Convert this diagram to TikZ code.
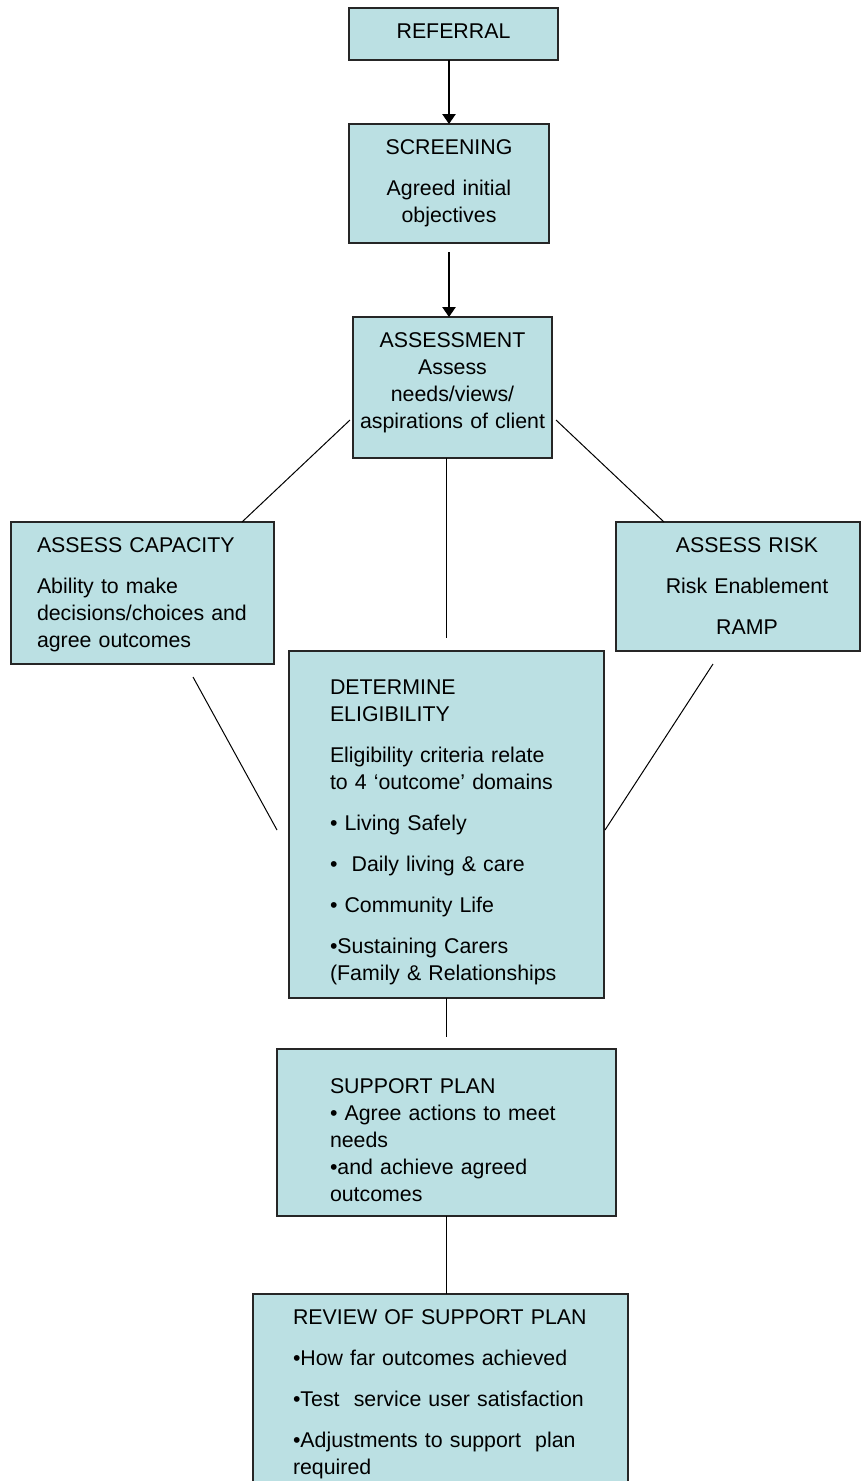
\documentclass[tikz,border=0pt]{standalone}
\usepackage{fontspec}
\setmainfont{Liberation Sans}
\usetikzlibrary{arrows.meta}
\definecolor{stagefill}{HTML}{BBE0E3}
\newcommand{\pushup}[1]{\rule[-#1]{0pt}{#1}}
\newcommand{\nudge}{\hspace*{13.5pt}}

\begin{document}
\begin{tikzpicture}[
  x=0.75pt, y=-0.75pt,
  stage/.style={
    rectangle,
    draw=black!85,
    line width=1pt,
    fill=stagefill,
    anchor=north west,
    inner ysep=0pt,
    outer sep=0pt,
    font=\fontsize{16pt}{20.25pt}\selectfont
  },
  stagec/.style={stage, align=center, inner xsep=3pt},
  stagel/.style={stage, align=left},
  link/.style={draw=black, line width=0.75pt},
  flow/.style={draw=black, line width=1.1pt, -{Triangle[width=10pt,length=7.5pt]}}]
  \useasboundingbox (0,0) rectangle (861,1481);
  % centre column, top
  \node[stagec, text width=150.75pt, minimum height=39pt] (referral) at (349,8) {REFERRAL\pushup{4.5pt}};
  \node[stagec, text width=144pt, minimum height=89.25pt] (screening) at (349,124)
    {SCREENING\\[10.5pt] Agreed initial\\ objectives};
  \node[stagec, text width=143.25pt, minimum height=105.75pt] (assessment) at (353,317)
    {ASSESSMENT\\ Assess\\ needs/views/\\ aspirations of client\pushup{10pt}};
  % side boxes
  \node[stagel, text width=158.25pt, inner xsep=19.5pt, minimum height=106.5pt] (capacity) at (11,522)
    {\rule{0pt}{13.75pt}ASSESS CAPACITY\\[10.5pt] Ability to make\\ decisions/choices and\\ agree outcomes};
  \node[stagec, text width=177pt, minimum height=96.75pt] (risk) at (616,522)
    {\nudge ASSESS RISK\\[10.5pt] \nudge Risk Enablement\\[10.5pt] \nudge RAMP};
  % centre column, bottom
  \node[stagel, text width=174.75pt, inner xsep=30.75pt, minimum height=260.25pt] (determine) at (289,651)
    {\rule{0pt}{23.5pt}DETERMINE\\
     ELIGIBILITY\\[10.5pt]
     Eligibility criteria relate\\
     to 4 ‘outcome’ domains\\[10.5pt]
     • Living Safely\\[10.5pt]
     •~ Daily living \& care\\[10.5pt]
     • Community Life\\[10.5pt]
     •Sustaining Carers\\
     (Family \& Relationships};
  \node[stagel, text width=174.75pt, inner xsep=39.75pt, minimum height=125.25pt] (support) at (277,1049)
    {\rule{0pt}{22pt}SUPPORT PLAN\\
     • Agree actions to meet\\
     needs\\
     •and achieve agreed\\
     outcomes};
  \node[stagel, text width=221.25pt, inner xsep=30pt, minimum height=150pt] (review) at (253,1294)
    {REVIEW OF SUPPORT PLAN\\[10.5pt]
     •How far outcomes achieved\\[10.5pt]
     •Test~ service user satisfaction\\[10.5pt]
     •Adjustments to support~ plan\\
     required};
  % connectors
  \draw[flow] (screening.north |- referral.south) -- (screening.north);
  \draw[flow] ([yshift=-6.75pt]screening.south) -- (screening.south |- assessment.north);
  \draw[link] ([xshift=-2.25pt,yshift=-77.25pt]assessment.north west) -- ([xshift=-24pt]capacity.north east);
  \draw[link] ([xshift=3pt,yshift=-77.25pt]assessment.north east) -- ([xshift=36pt]risk.north west);
  \draw[link] (assessment.south -| determine.north) -- ([yshift=9.75pt]determine.north);
  \draw[link] ([xshift=136.5pt,yshift=-9.75pt]capacity.south west) -- ([xshift=-9pt,yshift=-4.125pt]determine.west);
  \draw[link] ([xshift=72.75pt,yshift=-9.75pt]risk.south west) -- ([xshift=0.75pt,yshift=-4.125pt]determine.east);
  \draw[link] (determine.south) -- ([yshift=9pt]determine.south |- support.north);
  \draw[link] (support.south) -- (support.south |- review.north);
\end{tikzpicture}
\end{document}
